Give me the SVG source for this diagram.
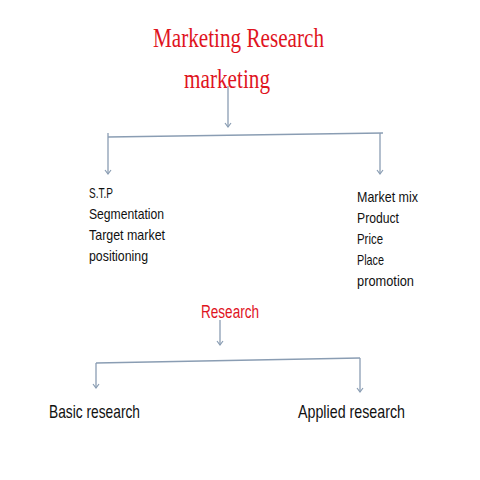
<svg xmlns="http://www.w3.org/2000/svg" width="480" height="480" viewBox="0 0 480 480">
<defs>
<style>
.title{font-family:"Liberation Serif",serif;fill:#e0141e}
.red{font-family:"Liberation Sans",sans-serif;fill:#e0141e}
.txt{font-family:"Liberation Sans",sans-serif;fill:#111}
.ln{stroke:#8a9db3;stroke-width:1.3;fill:none}
</style>
<marker id="v" viewBox="0 0 8 8" refX="7" refY="4" markerWidth="8" markerHeight="8" markerUnits="userSpaceOnUse" orient="auto">
<path d="M3,1 L7,4 L3,7" fill="none" stroke="#8a9db3" stroke-width="1.2"/>
</marker>
</defs>
<rect width="480" height="480" fill="#fff"/>
<g id="n-marketing-research">
<text class="title" x="153" y="47" font-size="27" textLength="171" lengthAdjust="spacingAndGlyphs">Marketing Research</text>
<text class="title" x="184" y="88" font-size="27" textLength="86" lengthAdjust="spacingAndGlyphs">marketing</text>
</g>
<g id="n-stp">
<text class="txt" x="89" y="198" font-size="15" textLength="24" lengthAdjust="spacingAndGlyphs">S.T.P</text>
<text class="txt" x="89" y="219" font-size="15" textLength="75" lengthAdjust="spacingAndGlyphs">Segmentation</text>
<text class="txt" x="89" y="240" font-size="15" textLength="76" lengthAdjust="spacingAndGlyphs">Target market</text>
<text class="txt" x="89" y="261" font-size="15" textLength="59" lengthAdjust="spacingAndGlyphs">positioning</text>
</g>
<g id="n-market-mix">
<text class="txt" x="357" y="202" font-size="15" textLength="61" lengthAdjust="spacingAndGlyphs">Market mix</text>
<text class="txt" x="357" y="223" font-size="15" textLength="42" lengthAdjust="spacingAndGlyphs">Product</text>
<text class="txt" x="357" y="244" font-size="15" textLength="26" lengthAdjust="spacingAndGlyphs">Price</text>
<text class="txt" x="357" y="265" font-size="15" textLength="27" lengthAdjust="spacingAndGlyphs">Place</text>
<text class="txt" x="357" y="286" font-size="15" textLength="57" lengthAdjust="spacingAndGlyphs">promotion</text>
</g>
<g id="n-research">
<text class="red" x="201" y="318" font-size="18" textLength="58" lengthAdjust="spacingAndGlyphs">Research</text>
</g>
<g id="n-basic">
<text class="txt" x="49" y="418" font-size="19" textLength="91" lengthAdjust="spacingAndGlyphs">Basic research</text>
</g>
<g id="n-applied">
<text class="txt" x="298" y="418" font-size="19" textLength="107" lengthAdjust="spacingAndGlyphs">Applied research</text>
</g>
<g id="connectors">
<line class="ln" x1="228" y1="86" x2="228" y2="127" marker-end="url(#v)"/>
<line class="ln" x1="108" y1="137" x2="383" y2="133"/>
<line class="ln" x1="108" y1="133" x2="108" y2="174" marker-end="url(#v)"/>
<line class="ln" x1="380" y1="133" x2="380" y2="174" marker-end="url(#v)"/>
<line class="ln" x1="220" y1="320" x2="220" y2="345" marker-end="url(#v)"/>
<line class="ln" x1="96" y1="363" x2="360" y2="358"/>
<line class="ln" x1="96" y1="363" x2="96" y2="388" marker-end="url(#v)"/>
<line class="ln" x1="360" y1="358" x2="360" y2="392" marker-end="url(#v)"/>
</g>
</svg>
